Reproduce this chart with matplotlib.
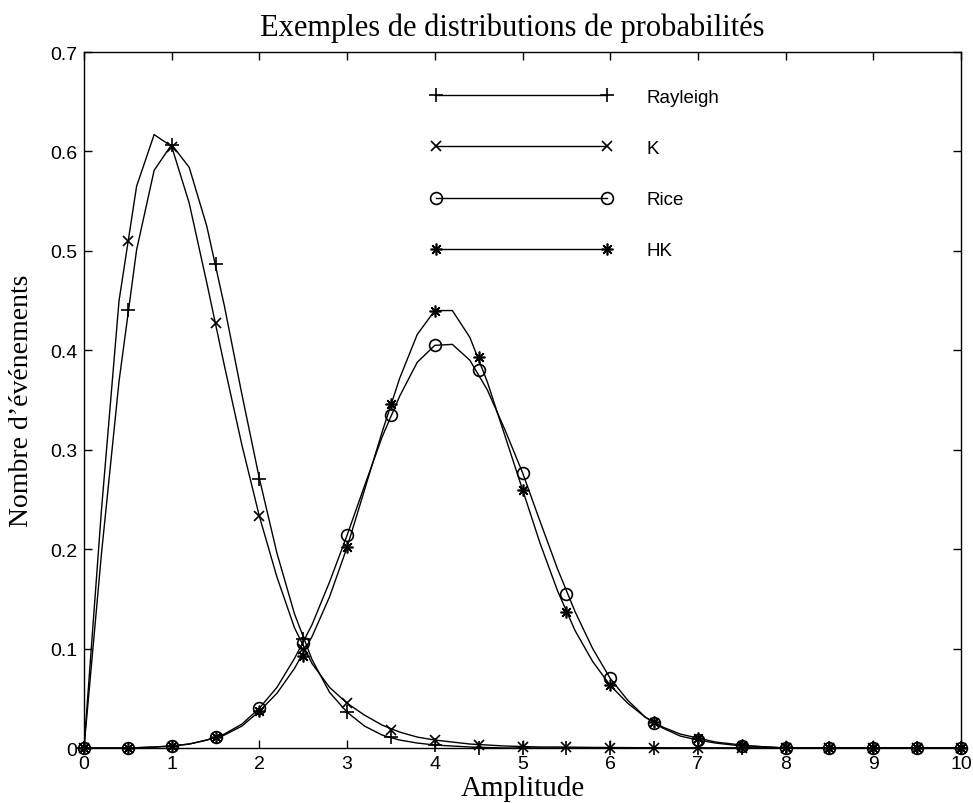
"""Exemples de distributions de probabilites - Rayleigh / K / Rice / HK."""
import matplotlib
matplotlib.use("Agg")
import matplotlib.pyplot as plt
from matplotlib.lines import Line2D

# fine grid used for the curves (step 0.2)
x_line = [0.0, 0.2, 0.4, 0.6, 0.8, 1.0, 1.2, 1.4, 1.6, 1.8,
          2.0, 2.2, 2.4, 2.6, 2.8, 3.0, 3.2, 3.4, 3.6, 3.8,
          4.0, 4.2, 4.4, 4.6, 4.8, 5.0, 5.2, 5.4, 5.6, 5.8,
          6.0, 6.2, 6.4, 6.6, 6.8, 7.0, 7.2, 7.4, 7.6, 7.8,
          8.0, 8.2, 8.4, 8.6, 8.8, 9.0, 9.2, 9.4, 9.6, 9.8, 10.0]

rayleigh_line = [0, 0.196, 0.369, 0.501, 0.581, 0.607, 0.584, 0.525, 0.445, 0.356,
                 0.271, 0.196, 0.135, 0.089, 0.056, 0.036, 0.022, 0.013, 0.008, 0.005,
                 0.003, 0.002, 0.001, 0.0005, 0, 0, 0, 0, 0, 0,
                 0, 0, 0, 0, 0, 0, 0, 0, 0, 0,
                 0, 0, 0, 0, 0, 0, 0, 0, 0, 0, 0]
k_line = [0, 0.24, 0.45, 0.565, 0.617, 0.605, 0.548, 0.468, 0.385, 0.305,
          0.233, 0.172, 0.121, 0.085, 0.061, 0.045, 0.033, 0.023, 0.016, 0.011,
          0.008, 0.006, 0.004, 0.003, 0.002, 0.0015, 0.001, 0.001, 0.0008, 0.0006,
          0.0005, 0.0004, 0.0003, 0.0002, 0.0001, 0, 0, 0, 0, 0,
          0, 0, 0, 0, 0, 0, 0, 0, 0, 0, 0]
rice_line = [0, 0, 0, 0.0003, 0.001, 0.002, 0.004, 0.008, 0.014, 0.024,
             0.040, 0.061, 0.090, 0.124, 0.167, 0.214, 0.264, 0.313, 0.354, 0.388,
             0.405, 0.406, 0.390, 0.360, 0.320, 0.277, 0.228, 0.180, 0.137, 0.100,
             0.070, 0.048, 0.031, 0.020, 0.012, 0.008, 0.005, 0.003, 0.002, 0.001,
             0, 0, 0, 0, 0, 0, 0, 0, 0, 0, 0]
hk_line = [0, 0, 0, 0.0003, 0.001, 0.002, 0.004, 0.008, 0.013, 0.022,
           0.037, 0.055, 0.080, 0.112, 0.152, 0.202, 0.260, 0.318, 0.372, 0.416,
           0.440, 0.440, 0.413, 0.368, 0.314, 0.260, 0.206, 0.158, 0.118, 0.087,
           0.063, 0.045, 0.031, 0.021, 0.014, 0.010, 0.006, 0.004, 0.002, 0.001,
           0, 0, 0, 0, 0, 0, 0, 0, 0, 0, 0]

# marker samples (step 0.5)
x_mark = [0.0, 0.5, 1.0, 1.5, 2.0, 2.5, 3.0, 3.5, 4.0, 4.5, 5.0,
          5.5, 6.0, 6.5, 7.0, 7.5, 8.0, 8.5, 9.0, 9.5, 10.0]
rayleigh_mark = [0, 0.441, 0.607, 0.487, 0.271, 0.110, 0.036, 0.011, 0.003, 0.0005, 0,
                 0, 0, 0, 0, 0, 0, 0, 0, 0, 0]
k_mark = [0, 0.51, 0.605, 0.427, 0.233, 0.100, 0.045, 0.018, 0.008, 0.003, 0.0015,
          0.001, 0.0005, 0.0002, 0, 0, 0, 0, 0, 0, 0]
rice_mark = [0, 0, 0.002, 0.011, 0.040, 0.106, 0.214, 0.335, 0.405, 0.380, 0.277,
             0.155, 0.070, 0.025, 0.008, 0.002, 0, 0, 0, 0, 0]
hk_mark = [0, 0, 0.002, 0.011, 0.037, 0.093, 0.202, 0.346, 0.440, 0.393, 0.260,
           0.137, 0.063, 0.026, 0.010, 0.003, 0.001, 0, 0, 0, 0]

labels = ["Rayleigh", "K", "Rice", "HK"]
xticks = [0, 1, 2, 3, 4, 5, 6, 7, 8, 9, 10]
xticklabels = ["0", "1", "2", "3", "4", "5", "6", "7", "8", "9", "10"]
yticks = [0, 0.1, 0.2, 0.3, 0.4, 0.5, 0.6, 0.7]
yticklabels = ["0", "0.1", "0.2", "0.3", "0.4", "0.5", "0.6", "0.7"]

SERIF = "Liberation Serif"
SANS = "Liberation Sans"
ASTER = (8, 2, 0)
styles = [dict(marker="+", ms=10, mfc="k"),
          dict(marker="x", ms=6.5, mfc="k"),
          dict(marker="o", ms=8.5, mfc="none"),
          dict(marker=ASTER, ms=8.5, mfc="k")]

fig = plt.figure(figsize=(9.73, 8.04), dpi=100)
ax = fig.add_axes([0.0863, 0.0684, 0.9014, 0.8656])

lines = [rayleigh_line, k_line, rice_line, hk_line]
marks = [rayleigh_mark, k_mark, rice_mark, hk_mark]
for yl, ym, st in zip(lines, marks, styles):
    ax.plot(x_line, yl, color="k", lw=1.0)
    ax.plot(x_mark, ym, ls="none", color="k", mew=1.2, clip_on=False, zorder=3, **st)

handles = [Line2D([], [], color="k", lw=1.0, mew=1.2, **st) for st in styles]
ax.legend(handles, labels, loc="upper left", bbox_to_anchor=(3.95, 0.663),
          bbox_transform=ax.transData, frameon=False, numpoints=2,
          handlelength=9.73, handletextpad=1.77, labelspacing=1.81,
          borderpad=0, borderaxespad=0, prop={"family": SANS, "size": 13.5})

ax.set_xlim(0, 10)
ax.set_ylim(0, 0.7)
ax.set_xticks(xticks)
ax.set_xticklabels(xticklabels, family=SANS, fontsize=14)
ax.set_yticks(yticks)
ax.set_yticklabels(yticklabels, family=SANS, fontsize=14)
ax.tick_params(direction="in", length=6, width=1, top=True, right=True, pad=5)
for sp in ax.spines.values():
    sp.set_linewidth(1.0)

ax.set_title("Exemples de distributions de probabilités", family=SERIF, fontsize=22,
             pad=12, x=0.488)
ax.set_xlabel("Amplitude", family=SERIF, fontsize=21, labelpad=2)
ax.set_ylabel("Nombre d\u2019événements", family=SERIF, fontsize=20, labelpad=11)

fig.savefig("out.png", dpi=100, facecolor="white")
